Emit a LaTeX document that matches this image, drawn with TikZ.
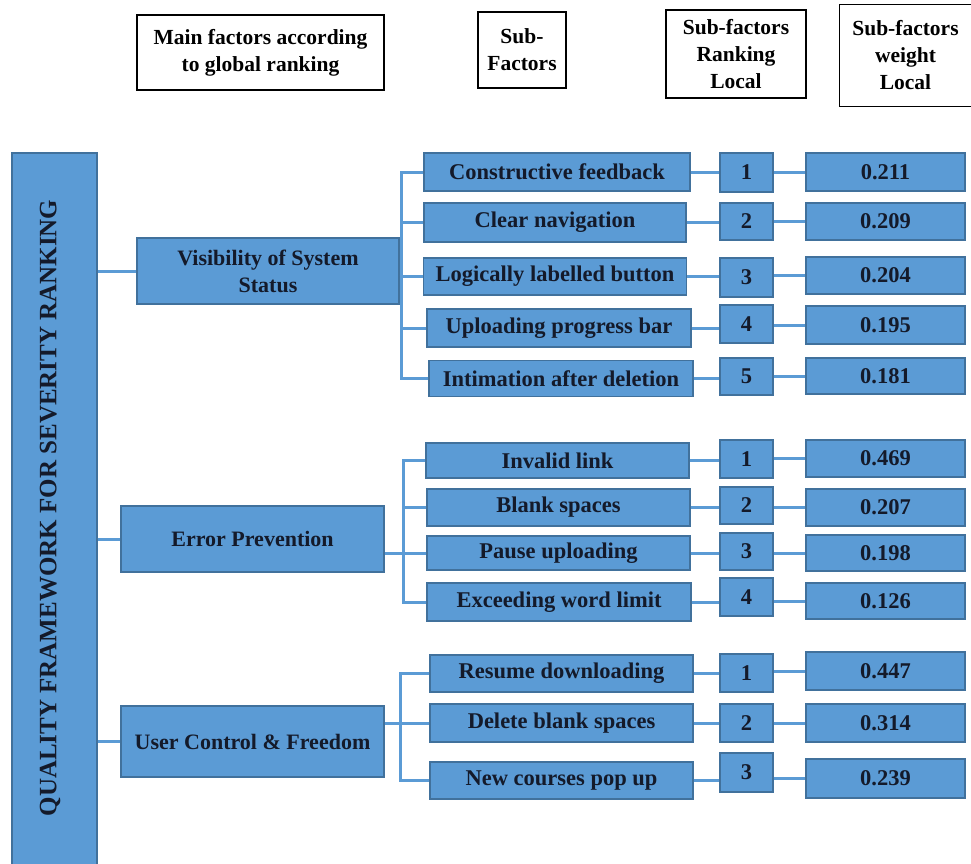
\documentclass[tikz,border=0pt]{standalone}
\usepackage{fontspec}
\setmainfont{Liberation Serif}
\definecolor{boxblue}{HTML}{5B9BD5}
\definecolor{boxedge}{HTML}{41719C}
\definecolor{boxtext}{HTML}{141A2A}

\begin{document}
\begin{tikzpicture}[x=1pt,y=-1pt,
  hdr/.style={draw=black, line width=1.2pt, align=center, inner sep=0pt, font={\fontsize{21.5}{27}\selectfont\bfseries}},
  blk/.style={draw=boxedge, fill=boxblue, line width=1.4pt, align=center, inner sep=0pt, text=boxtext, font={\fontsize{22.5}{27}\selectfont\bfseries}},
  mainblk/.style={blk, font={\fontsize{22}{27}\selectfont\bfseries}},
  conn/.style={draw=boxblue, line width=3pt}]
\useasboundingbox (0,0) rectangle (971,863);
% column headers
\node[hdr, minimum width=247pt, minimum height=75pt] (hMain) at (260.5,52.5) {Main factors according\\to global ranking};
\node[hdr, minimum width=88pt, minimum height=76pt] (hSub) at (522,50) {Sub-\\Factors};
\node[hdr, minimum width=140pt, minimum height=88pt] (hRank) at (736,54) {Sub-factors\\Ranking\\Local};
\node[hdr, draw=none, minimum width=131pt, minimum height=101pt] (hWeight) at (905.5,55.5) {Sub-factors\\weight\\Local};
\draw[black, line width=1.4pt] (hWeight.north east) -- (hWeight.north west) -- (hWeight.south west) -- (hWeight.south east);
% framework bar
\node[blk, minimum width=85pt, minimum height=727pt] (bar) at (54.5,516.5) {};
\node[rotate=90, text=boxtext, font={\fontsize{25}{30}\selectfont\bfseries}] (barText) at (50,508) {QUALITY FRAMEWORK FOR SEVERITY RANKING};
% main factors
\node[mainblk, minimum width=262pt, minimum height=66pt] (vis) at (268,271) {Visibility of System\\Status};
\node[mainblk, minimum width=263pt, minimum height=66pt] (err) at (252.5,539) {Error Prevention};
\node[mainblk, minimum width=263pt, minimum height=71pt] (usr) at (252.5,741.5) {User Control \& Freedom};
% sub-factors: visibility
\node[blk, minimum width=266pt, minimum height=38pt] (vis1) at (557,172) {Constructive feedback};
\node[blk, minimum width=262pt, minimum height=39pt] (vis2) at (555,222.5) {Clear navigation};
\node[blk, minimum width=263pt, minimum height=37pt] (vis3) at (555,276.5) {Logically labelled button};
\node[blk, minimum width=264pt, minimum height=38pt] (vis4) at (559,328) {Uploading progress bar};
\node[blk, minimum width=264pt, minimum height=36pt] (vis5) at (561,378.5) {Intimation after deletion};
\node[blk, minimum width=53pt, minimum height=39pt] (visR1) at (746.5,172.5) {1};
\node[blk, minimum width=53pt, minimum height=37pt] (visR2) at (746.5,221.5) {2};
\node[blk, minimum width=53pt, minimum height=39pt] (visR3) at (746.5,277.5) {3};
\node[blk, minimum width=53pt, minimum height=38pt] (visR4) at (746.5,324) {4};
\node[blk, minimum width=53pt, minimum height=37pt] (visR5) at (746.5,376.5) {5};
\node[blk, minimum width=159pt, minimum height=38pt] (visW1) at (885.5,172) {0.211};
\node[blk, minimum width=159pt, minimum height=37pt] (visW2) at (885.5,221.5) {0.209};
\node[blk, minimum width=159pt, minimum height=37pt] (visW3) at (885.5,275.5) {0.204};
\node[blk, minimum width=159pt, minimum height=38pt] (visW4) at (885.5,325) {0.195};
\node[blk, minimum width=159pt, minimum height=36pt] (visW5) at (885.5,376) {0.181};
% sub-factors: error prevention
\node[blk, minimum width=263pt, minimum height=35pt] (err1) at (557.5,460.5) {Invalid link};
\node[blk, minimum width=263pt, minimum height=37pt] (err2) at (558.5,507.5) {Blank spaces};
\node[blk, minimum width=263pt, minimum height=34pt] (err3) at (558.5,553) {Pause uploading};
\node[blk, minimum width=264pt, minimum height=38pt] (err4) at (559,602) {Exceeding word limit};
\node[blk, minimum width=53pt, minimum height=38pt] (errR1) at (746.5,459) {1};
\node[blk, minimum width=53pt, minimum height=37pt] (errR2) at (746.5,505.5) {2};
\node[blk, minimum width=53pt, minimum height=37pt] (errR3) at (746.5,551.5) {3};
\node[blk, minimum width=53pt, minimum height=38pt] (errR4) at (746.5,597) {4};
\node[blk, minimum width=159pt, minimum height=37pt] (errW1) at (885.5,458.5) {0.469};
\node[blk, minimum width=159pt, minimum height=37pt] (errW2) at (885.5,507.5) {0.207};
\node[blk, minimum width=159pt, minimum height=36pt] (errW3) at (885.5,553) {0.198};
\node[blk, minimum width=159pt, minimum height=36pt] (errW4) at (885.5,601) {0.126};
% sub-factors: user control
\node[blk, minimum width=263pt, minimum height=37pt] (usr1) at (561.5,673.5) {Resume downloading};
\node[blk, minimum width=263pt, minimum height=38pt] (usr2) at (561.5,723) {Delete blank spaces};
\node[blk, minimum width=263pt, minimum height=37pt] (usr3) at (561.5,780.5) {New courses pop up};
\node[blk, minimum width=53pt, minimum height=38pt] (usrR1) at (746.5,673) {1};
\node[blk, minimum width=53pt, minimum height=38pt] (usrR2) at (746.5,723) {2};
\node[blk, minimum width=53pt, minimum height=39pt] (usrR3) at (746.5,772.5) {3};
\node[blk, minimum width=159pt, minimum height=38pt] (usrW1) at (885.5,671) {0.447};
\node[blk, minimum width=159pt, minimum height=38pt] (usrW2) at (885.5,723) {0.314};
\node[blk, minimum width=159pt, minimum height=39pt] (usrW3) at (885.5,778.5) {0.239};
% bar to main factors
\draw[conn] (bar.east |- vis) -- (vis.west);
\draw[conn] (bar.east |- err) -- (err.west);
\draw[conn] (bar.east |- usr) -- (usr.west);
% brackets
\coordinate (b1) at (401,0);
\coordinate (b2) at (403,0);
\coordinate (b3) at (400,0);
\draw[conn] (vis1.west) -| (b1 |- vis5) -- (vis5.west);
\draw[conn] (b1 |- vis2) -- (vis2.west);
\draw[conn] (b1 |- vis4) -- (vis4.west);
\draw[conn] (vis.east |- vis3) -- (vis3.west);
\draw[conn] (err1.west) -| (b2 |- err4) -- (err4.west);
\draw[conn] (b2 |- err2) -- (err2.west);
\draw[conn] (err.east |- err3) -- (err3.west);
\draw[conn] (usr1.west) -| (b3 |- usr3) -- (usr3.west);
\draw[conn] (usr.east |- usr2) -- (usr2.west);
% sub-factor to rank to weight
\draw[conn] (vis1.east) -- (vis1.east -| visR1.west);
\draw[conn] (vis2.east) -- (vis2.east -| visR2.west);
\draw[conn] (vis3.east) -- (vis3.east -| visR3.west);
\draw[conn] (vis4.east) -- (vis4.east -| visR4.west);
\draw[conn] (vis5.east) -- (vis5.east -| visR5.west);
\draw[conn] (visW1.west -| visR1.east) -- (visW1.west);
\draw[conn] (visW2.west -| visR2.east) -- (visW2.west);
\draw[conn] (visW3.west -| visR3.east) -- (visW3.west);
\draw[conn] (visW4.west -| visR4.east) -- (visW4.west);
\draw[conn] (visW5.west -| visR5.east) -- (visW5.west);
\draw[conn] (err1.east) -- (err1.east -| errR1.west);
\draw[conn] (err2.east) -- (err2.east -| errR2.west);
\draw[conn] (err3.east) -- (err3.east -| errR3.west);
\draw[conn] (err4.east) -- (err4.east -| errR4.west);
\draw[conn] (errW1.west -| errR1.east) -- (errW1.west);
\draw[conn] (errW2.west -| errR2.east) -- (errW2.west);
\draw[conn] (errW3.west -| errR3.east) -- (errW3.west);
\draw[conn] (errW4.west -| errR4.east) -- (errW4.west);
\draw[conn] (usr1.east) -- (usr1.east -| usrR1.west);
\draw[conn] (usr2.east) -- (usr2.east -| usrR2.west);
\draw[conn] (usr3.east) -- (usr3.east -| usrR3.west);
\draw[conn] (usrW1.west -| usrR1.east) -- (usrW1.west);
\draw[conn] (usrW2.west -| usrR2.east) -- (usrW2.west);
\draw[conn] (usrW3.west -| usrR3.east) -- (usrW3.west);
\end{tikzpicture}
\end{document}
